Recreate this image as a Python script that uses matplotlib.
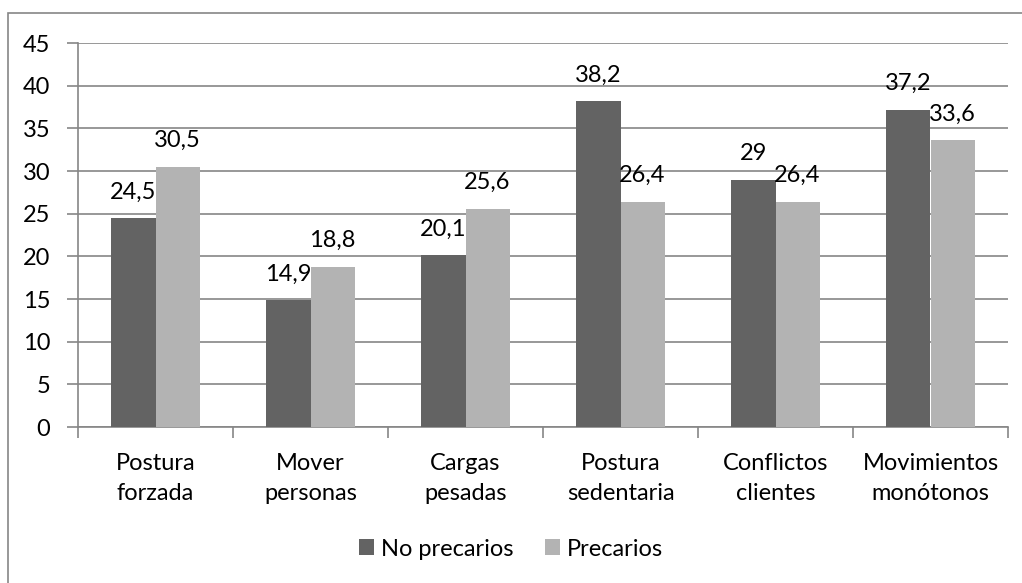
import matplotlib.pyplot as plt
import numpy as np
from matplotlib.patches import Rectangle

plt.rcParams['font.family'] = ['Lato', 'DejaVu Sans']

categorias = ["Postura\nforzada", "Mover\npersonas", "Cargas\npesadas",
              "Postura\nsedentaria", "Conflictos\nclientes", "Movimientos\nmonótonos"]
no_precarios = [24.5, 14.9, 20.1, 38.2, 29, 37.2]
precarios = [30.5, 18.8, 25.6, 26.4, 26.4, 33.6]
etiq_no = ["24,5", "14,9", "20,1", "38,2", "29", "37,2"]
etiq_si = ["30,5", "18,8", "25,6", "26,4", "26,4", "33,6"]

gris = "#868686"
fs = 17
fig = plt.figure(figsize=(10.22, 5.83), dpi=100)
fig.patches.append(Rectangle((8/1022, -0.05), 1.2, 1 - 13/583 + 0.05, transform=fig.transFigure,
                             fill=False, edgecolor=gris, linewidth=1.2))
ax = fig.add_axes([78/1022, 1 - 427/583, 930/1022, 384/583])

x = np.arange(len(categorias))
w = 0.284
b1 = ax.bar(x - w/2, no_precarios, w, color="#636363", label="No precarios", zorder=3)
b2 = ax.bar(x + w/2, precarios, w, color="#b3b3b3", label="Precarios", zorder=3)
# etiquetas de datos por encima de cada barra
for barras, etiq in [(b1, etiq_no), (b2, etiq_si)]:
    for rect, t in zip(barras, etiq):
        ax.annotate(t, (rect.get_x() + rect.get_width()/2, rect.get_height()), xytext=(0, 14),
                    textcoords="offset points", ha="center", va="baseline", fontsize=fs, zorder=4)

ax.set_xlim(-0.5, len(categorias) - 0.5)
ax.set_ylim(0, 45)
ax.set_yticks(range(0, 46, 5))
ax.yaxis.grid(True, color=gris, linewidth=1.2, zorder=0)
ax.set_xticks(x)
ax.set_xticklabels(categorias, fontsize=fs, linespacing=1.5)
ax.set_xticks(np.arange(-0.5, len(categorias)), minor=True)
ax.tick_params(axis="x", which="major", length=0, pad=19)
ax.tick_params(axis="x", which="minor", length=8, color=gris, width=1.2)
ax.tick_params(axis="y", length=8, color=gris, width=1.2, labelsize=fs, pad=12)
for s in ["top", "right"]:
    ax.spines[s].set_visible(False)
for s in ["left", "bottom"]:
    ax.spines[s].set_color(gris)
    ax.spines[s].set_linewidth(1.2)

fig.legend(loc="center", bbox_to_anchor=(0.5, 1 - 549/583), ncol=2, frameon=False,
           fontsize=fs, handlelength=0.65, handleheight=0.65, handletextpad=0.3, columnspacing=1.3)
fig.savefig("out.png", dpi=100)
